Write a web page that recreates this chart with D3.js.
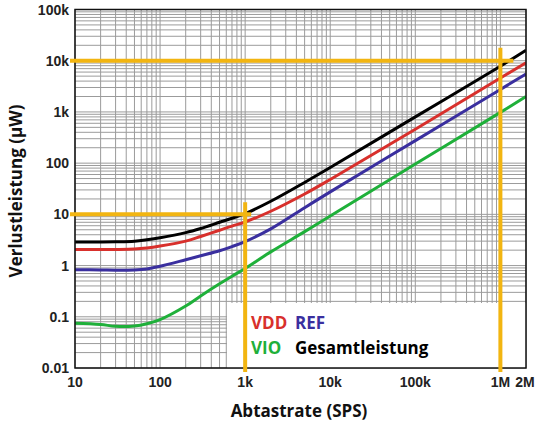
<!DOCTYPE html>
<html>
<head>
<meta charset="utf-8">
<script src="https://cdn.jsdelivr.net/npm/d3@7"></script>
<style>
  body { margin: 0; background: #fff; }
  .tick-label { font-family: "Liberation Sans", Arial, sans-serif; font-weight: bold; font-size: 14px; fill: #222; }
  .axis-title { font-family: "Open Sans", sans-serif; font-weight: bold; font-size: 17px; fill: #111; }
  .legend-text { font-family: "Open Sans", sans-serif; font-weight: bold; font-size: 17px; }
</style>
</head>
<body>
<div id="chart"></div>
<script>
// Sample rate (SPS) at which the curves were read
var rates = [10, 20, 30, 50, 70, 100, 200, 300, 500, 700, 1e3, 2e3, 5e3, 1e4, 1e5, 1e6, 2e6];

// Power dissipation (uW) per supply
var vddPower = [2.05, 2.05, 2.06, 2.1, 2.2, 2.4, 3.0, 3.7, 4.9, 5.9, 7.1, 11.5, 25, 48, 460, 4600, 9100];
var refPower = [0.83, 0.82, 0.81, 0.82, 0.86, 0.97, 1.3, 1.55, 1.95, 2.35, 2.95, 5.2, 13.5, 27.5, 275, 2750, 5500];
var vioPower = [0.075, 0.071, 0.065, 0.066, 0.073, 0.088, 0.162, 0.255, 0.44, 0.62, 0.88, 1.85, 4.6, 9.3, 96, 980, 2000];
var totalPower = [2.9, 2.9, 2.92, 3.0, 3.2, 3.5, 4.4, 5.3, 7.0, 8.4, 10.3, 18, 42, 82, 800, 7800, 16000];

// Tick values and their labels
var xTicks = [10, 100, 1e3, 1e4, 1e5, 1e6, 2e6];
var xTickLabels = ["10", "100", "1k", "10k", "100k", "1M", "2M"];
var yTicks = [0.01, 0.1, 1, 10, 100, 1e3, 1e4, 1e5];
var yTickLabels = ["0.01", "0.1", "1", "10", "100", "1k", "10k", "100k"];

// Marker lines (yellow): 10 uW at 1k SPS and 10k uW at 1M SPS
var markerRates = [1e3, 1e6];
var markerPower = [10, 1e4];

var svgWidth = 540;
var svgHeight = 429;
var plot = { left: 75, right: 526, top: 9.5, bottom: 368 };

var svg = d3.select("#chart")
  .append("svg")
  .attr("width", svgWidth)
  .attr("height", svgHeight);

var xScale = d3.scaleLog().domain([10, 2e6]).range([plot.left, plot.right]);
var yScale = d3.scaleLog().domain([0.01, 1e5]).range([plot.bottom, plot.top]);

// minor log grid values (1..9 per decade)
var xGrid = [];
for (var e = 1; e <= 6; e++) {
  for (var m = 1; m <= 9; m++) {
    var v = m * Math.pow(10, e);
    if (v <= 2e6) xGrid.push(v);
  }
}
var yGrid = [];
for (var e2 = -2; e2 <= 5; e2++) {
  for (var m2 = 1; m2 <= 9; m2++) {
    var v2 = m2 * Math.pow(10, e2);
    if (v2 <= 1e5) yGrid.push(v2);
  }
}

var gridGroup = svg.append("g").attr("stroke", "#9b9b9b").attr("stroke-width", 1);

gridGroup.selectAll("line.vx")
  .data(xGrid)
  .enter()
  .append("line")
  .attr("x1", d => xScale(d))
  .attr("x2", d => xScale(d))
  .attr("y1", plot.top)
  .attr("y2", plot.bottom);

gridGroup.selectAll("line.hy")
  .data(yGrid)
  .enter()
  .append("line")
  .attr("x1", plot.left)
  .attr("x2", plot.right)
  .attr("y1", d => yScale(d))
  .attr("y2", d => yScale(d));

// white legend box that hides the grid in the lower right
svg.append("rect")
  .attr("x", 227)
  .attr("y", 303)
  .attr("width", plot.right - 227)
  .attr("height", plot.bottom - 303)
  .attr("fill", "#fff");

// clip the curves to the plot area
svg.append("clipPath")
  .attr("id", "plotClip")
  .append("rect")
  .attr("x", plot.left)
  .attr("y", plot.top)
  .attr("width", plot.right - plot.left)
  .attr("height", plot.bottom - plot.top);

var series = [
  { values: vioPower, color: "#1fb03a" },
  { values: refPower, color: "#3a2f9f" },
  { values: vddPower, color: "#d8302c" },
  { values: totalPower, color: "#000000" }
];

var line = d3.line()
  .x(d => xScale(d[0]))
  .y(d => yScale(d[1]))
  .curve(d3.curveCatmullRom.alpha(0.5));

svg.append("g")
  .attr("clip-path", "url(#plotClip)")
  .selectAll("path")
  .data(series)
  .enter()
  .append("path")
  .attr("d", s => line(rates.map((r, i) => [r, s.values[i]])))
  .attr("fill", "none")
  .attr("stroke", s => s.color)
  .attr("stroke-width", 3);

// plot frame
svg.append("rect")
  .attr("x", plot.left)
  .attr("y", plot.top)
  .attr("width", plot.right - plot.left)
  .attr("height", plot.bottom - plot.top)
  .attr("fill", "none")
  .attr("stroke", "#111")
  .attr("stroke-width", 1.5);

// yellow marker lines
var yellow = "#f2b511";
var markerGroup = svg.append("g")
  .attr("stroke", yellow)
  .attr("stroke-width", 4);

markerGroup.selectAll("line.h")
  .data(markerRates)
  .enter()
  .append("line")
  .attr("x1", 70)
  .attr("x2", (d, i) => xScale(d) + (i === 0 ? 6 : 13))
  .attr("y1", (d, i) => yScale(markerPower[i]))
  .attr("y2", (d, i) => yScale(markerPower[i]));

markerGroup.selectAll("line.v")
  .data(markerRates)
  .enter()
  .append("line")
  .attr("x1", d => xScale(d))
  .attr("x2", d => xScale(d))
  .attr("y1", (d, i) => yScale(markerPower[i]) - (i === 0 ? 12 : 13))
  .attr("y2", plot.bottom + 4);

// y tick labels
svg.append("g")
  .selectAll("text")
  .data(yTicks)
  .enter()
  .append("text")
  .attr("class", "tick-label")
  .attr("x", 69)
  .attr("y", d => yScale(d) + 5)
  .attr("text-anchor", "end")
  .text((d, i) => yTickLabels[i]);

// x tick labels
svg.append("g")
  .selectAll("text")
  .data(xTicks)
  .enter()
  .append("text")
  .attr("class", "tick-label")
  .attr("x", d => xScale(d) + (d === 2e6 ? -1 : 0))
  .attr("y", 387)
  .attr("text-anchor", "middle")
  .text((d, i) => xTickLabels[i]);

// axis titles
svg.append("text")
  .attr("class", "axis-title")
  .attr("transform", "translate(22, 191) rotate(-90)")
  .attr("text-anchor", "middle")
  .text("Verlustleistung (µW)");

svg.append("text")
  .attr("class", "axis-title")
  .attr("x", 299)
  .attr("y", 417)
  .attr("text-anchor", "middle")
  .text("Abtastrate (SPS)");

// legend
var legendItems = [
  { label: "VDD", color: "#d8302c", x: 251, y: 329 },
  { label: "REF", color: "#3a2f9f", x: 295, y: 329 },
  { label: "VIO", color: "#1fb03a", x: 251, y: 354 },
  { label: "Gesamtleistung", color: "#000000", x: 295, y: 354 }
];

svg.append("g")
  .selectAll("text")
  .data(legendItems)
  .enter()
  .append("text")
  .attr("class", "legend-text")
  .attr("x", d => d.x)
  .attr("y", d => d.y)
  .attr("fill", d => d.color)
  .text(d => d.label);
</script>
</body>
</html>
